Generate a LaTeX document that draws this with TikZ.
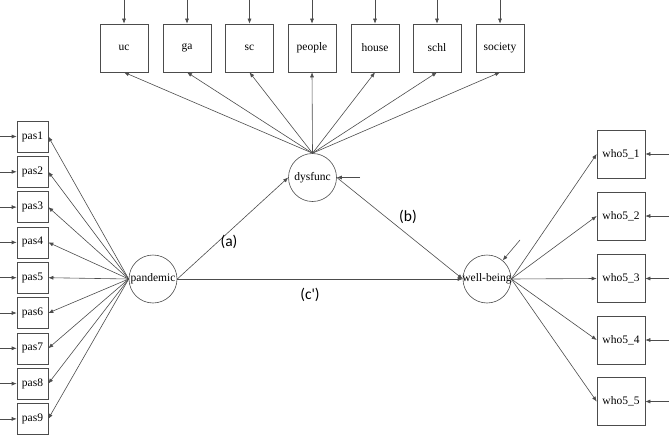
\documentclass[tikz,border=0pt]{standalone}
\usepackage{fontspec}
\setmainfont{Liberation Serif}
\newfontfamily\lblfont{Carlito}
\usetikzlibrary{arrows.meta}
\begin{document}
\begin{tikzpicture}[x=1pt,y=-1pt,
  arr/.style={draw=black!70, line width=0.6pt, -{Latex[length=5pt,width=4pt]}},
  bigbox/.style={draw=black!70, line width=0.6pt, minimum width=48pt, minimum height=48pt, inner sep=0pt, font=\fontsize{11.5}{13}\selectfont},
  smallbox/.style={draw=black!70, line width=0.6pt, minimum width=31pt, minimum height=31pt, inner sep=0pt, font=\fontsize{11.5}{13}\selectfont},
  latent/.style={draw=black!70, line width=0.6pt, circle, minimum size=48pt, inner sep=0pt, font=\fontsize{11.5}{13}\selectfont},
  pathlbl/.style={font=\lblfont\fontsize{15.5}{17}\selectfont}]
\useasboundingbox (0,0) rectangle (669,436);
% latent variables
\node[latent] (dys) at (312.5,177.5) {\makebox[0pt]{dysfunc}};
\node[latent] (pan) at (153,279) {\makebox[0pt]{pandemic}};
\node[latent] (wb) at (487,279) {\makebox[0pt]{well-being}};
% top indicators
\foreach \n/\t/\x in {uc/uc/124, ga/ga/187, sc/sc/249.5, people/people/312, house/house/375, schl/schl/437, society/society/500}{
  \node[bigbox] (\n) at (\x,48) {\t};
  \coordinate (e\n) at (\x,0);
  \draw[arr] (e\n) -- (\n.north);
  \draw[arr] (dys.north) -- (\n.south);
}
% pas indicators
\foreach \i in {1,...,9}{
  \node[smallbox] (pas\i) at (32.5,{136.5+35.3*(\i-1)}) {pas\i};
  \coordinate (epas\i) at (0,{136.5+35.3*(\i-1)});
  \draw[arr] (epas\i) -- (pas\i.west);
  \draw[arr] (pan.west) -- (pas\i.east);
}
% who5 indicators
\foreach \i/\y in {1/154, 2/216, 3/278.5, 4/340, 5/401.5}{
  \node[bigbox] (who\i) at (621,\y) {who5\_\i};
  \coordinate (ewho\i) at (669,\y);
  \draw[arr] (ewho\i) -- (who\i.east);
  \draw[arr] (wb.east) -- (who\i.west);
}
% structural paths
\draw[arr] (pan.east) -- (dys.west);
\draw[arr] (dys.east) -- (wb.west);
\draw[arr] (pan.east) -- (wb.west);
% errors of latents
\coordinate (edys) at (360,177.5);
\draw[arr] (edys) -- (dys.east);
\coordinate (ewb) at (520,240);
\draw[arr] (ewb) -- (wb);
% labels
\node[pathlbl] (la) at (229,242) {(a)};
\node[pathlbl] (lb) at (408,217) {(b)};
\node[pathlbl] (lc) at (310,295) {(c')};
\end{tikzpicture}
\end{document}
